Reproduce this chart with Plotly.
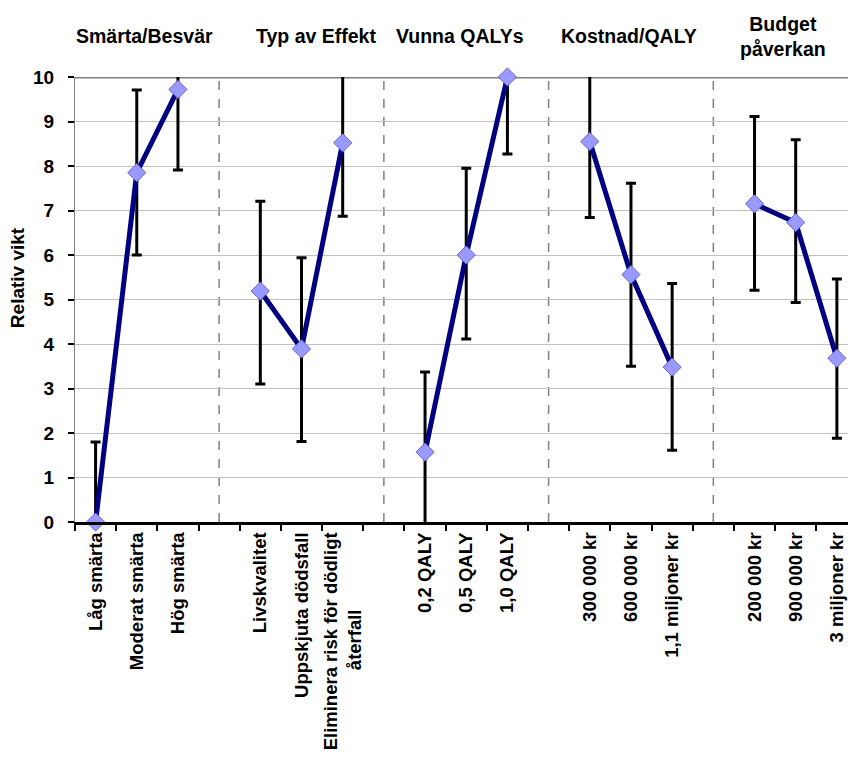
import plotly.graph_objects as go

# ---- data ----
categories = ["Låg smärta", "Moderat smärta", "Hög smärta", "",
              "Livskvalitet", "Uppskjuta dödsfall",
              "Eliminera risk för dödligt<br>återfall" + "\u00a0" * 15, "",
              "0,2 QALY", "0,5 QALY", "1,0 QALY", "",
              "300 000 kr", "600 000 kr", "1,1 miljoner kr", "",
              "200 000 kr", "900 000 kr", "3 miljoner kr"]
values = [0.0, 7.85, 9.72, None,
          5.19, 3.89, 8.52, None,
          1.57, 6.0, 10.0, None,
          8.55, 5.56, 3.48, None,
          7.15, 6.73, 3.68]
err_plus = [1.8, 1.86, 1.8, None,
            2.02, 2.05, 1.65, None,
            1.8, 1.95, 1.75, None,
            1.7, 2.05, 1.88, None,
            1.96, 1.86, 1.78]
err_minus = [1.8, 1.85, 1.81, None,
             2.09, 2.08, 1.65, None,
             1.8, 1.89, 1.73, None,
             1.71, 2.06, 1.87, None,
             1.94, 1.8, 1.8]
group_titles = ["Smärta/Besvär", "Typ av Effekt", "Vunna QALYs",
                "Kostnad/QALY", "Budget<br>påverkan"]
group_title_pos = [1.18, 5.35, 8.86, 12.95, 16.68]
separator_pos = [3, 7, 11, 15]
y_title = "Relativ vikt"

x_idx = list(range(len(categories)))
FONT = "Liberation Sans, Arial, sans-serif"

fig = go.Figure()
fig.add_trace(go.Scatter(
    x=x_idx, y=values, mode="lines",
    line=dict(color="#000080", width=5),
    connectgaps=False,
    error_y=dict(type="data", symmetric=False, array=err_plus,
                 arrayminus=err_minus, color="black", thickness=3, width=5),
    hoverinfo="skip", showlegend=False,
))
fig.add_trace(go.Scatter(
    x=x_idx, y=values, mode="markers",
    marker=dict(symbol="diamond", size=14, color="#9999FF",
                line=dict(color="#6666CC", width=1)),
    cliponaxis=False, showlegend=False,
))

shapes = []
for s in separator_pos:
    shapes.append(dict(type="line", xref="x", yref="y", x0=s, x1=s, y0=0, y1=10,
                       line=dict(color="#808080", width=1.5, dash="dash"), layer="below"))
shapes.append(dict(type="line", xref="paper", yref="y", x0=0, x1=1, y0=10, y1=10,
                   line=dict(color="#808080", width=3), layer="below"))
fig.update_layout(shapes=shapes)

annotations = []
for t, p in zip(group_titles, group_title_pos):
    annotations.append(dict(text="<b>%s</b>" % t, x=p, xref="x", y=1.092, yref="paper",
                            showarrow=False, xanchor="center", yanchor="middle",
                            font=dict(family=FONT, size=19.5, color="black")))
annotations.append(dict(text="<b>%s</b>" % y_title, x=0, xref="paper", xshift=-58,
                        y=0.548, yref="paper", textangle=-90, showarrow=False,
                        xanchor="center", yanchor="middle",
                        font=dict(family=FONT, size=19, color="black")))
fig.update_layout(annotations=annotations)

fig.update_layout(
    width=848, height=763,
    margin=dict(l=75, r=0, t=77, b=241, pad=0, autoexpand=False),
    paper_bgcolor="white", plot_bgcolor="white",
    font=dict(family=FONT, color="black"),
    xaxis=dict(range=[-0.5, 18.27], tickmode="array", tickvals=x_idx,
               ticktext=["<b>%s</b>" % c if c else "" for c in categories],
               tickangle=-90, ticks="", showgrid=False,
               showline=True, linecolor="black", linewidth=3,
               tickfont=dict(family=FONT, size=18.5, color="black"),
               ticklabeloverflow="allow",
               minor=dict(tick0=-0.5, dtick=1, ticks="outside", ticklen=6,
                          tickwidth=2, tickcolor="black", showgrid=False),
               zeroline=False, fixedrange=True, automargin=False),
    yaxis=dict(range=[0, 10], dtick=1, tick0=0, showgrid=True, gridcolor="#c0c0c0",
               gridwidth=1, zeroline=False, showline=True, linecolor="#808080",
               linewidth=1, ticks="outside", ticklen=6, tickwidth=2, tickcolor="black",
               tickfont=dict(family=FONT, size=19, color="black"),
               tickprefix="<b>", ticksuffix="</b>", ticklabelstandoff=10,
               fixedrange=True, automargin=False),
)

fig.write_html("out.html", config={"displayModeBar": False},
               post_script="document.body.style.margin='0';document.body.style.padding='0';")
